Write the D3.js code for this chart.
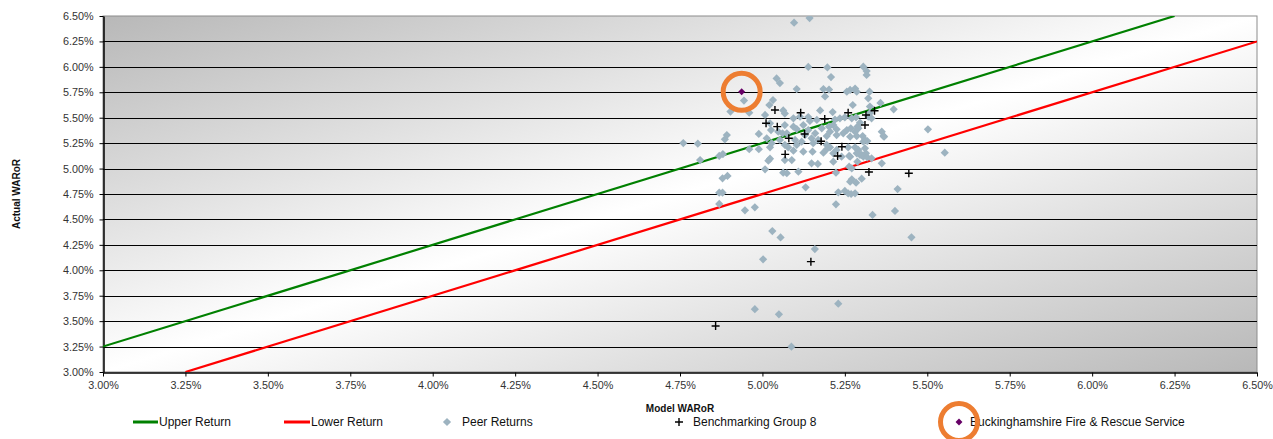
<!DOCTYPE html>
<html><head><meta charset="utf-8">
<script src="https://cdn.jsdelivr.net/npm/d3@7"></script>
<style>body{margin:0;background:#fff;} svg{display:block;font-family:"Liberation Sans",Arial,sans-serif;}</style>
</head><body>
<div id="chart"></div>
<script>
// ---- data (percent) ----
const xTicks = [3.00,3.25,3.50,3.75,4.00,4.25,4.50,4.75,5.00,5.25,5.50,5.75,6.00,6.25,6.50];
const yTicks = [3.00,3.25,3.50,3.75,4.00,4.25,4.50,4.75,5.00,5.25,5.50,5.75,6.00,6.25,6.50];
const upperReturn = [[3.00,3.25],[6.25,6.50]];
const lowerReturn = [[3.25,3.00],[6.50,6.25]];
const peerX = [5.096,5.143,5.139,5.197,5.306,5.316,5.316,5.208,5.043,5.053,5.104,5.185,5.202,5.256,5.266,5.281,5.286,5.325,5.190,4.944,
5.032,5.021,5.274,5.321,5.326,5.358,5.398,4.903,4.960,5.008,5.063,5.068,5.175,5.213,5.326,5.321,5.331,5.094,5.114,5.139,
5.144,5.165,5.220,5.235,5.250,5.271,5.284,5.296,5.023,5.288,5.068,5.094,5.104,5.124,5.139,5.180,5.202,5.215,5.225,5.256,
5.268,5.281,5.291,5.362,5.367,5.502,5.026,5.048,5.061,4.892,4.886,4.989,5.013,5.028,5.023,5.068,5.078,4.760,4.804,5.245,
5.225,5.205,5.195,5.160,5.149,5.154,5.169,5.266,5.286,5.304,5.311,5.306,5.318,5.053,5.074,5.099,5.104,5.119,5.129,5.195,
5.205,5.260,5.281,5.291,5.311,5.314,5.301,5.094,5.124,5.152,5.185,5.195,5.225,5.215,5.240,5.266,5.068,5.089,5.149,5.168,
5.215,5.263,5.286,5.296,5.306,5.318,5.331,5.288,5.362,5.063,5.074,5.109,5.223,5.263,5.271,5.271,5.266,5.284,5.301,5.131,
5.230,5.250,5.260,5.269,5.281,5.410,5.223,5.334,5.402,4.811,4.869,4.880,4.960,4.989,5.018,5.023,5.008,4.879,4.894,4.869,
4.879,4.869,4.947,4.977,5.030,5.055,5.159,5.452,5.002,4.977,5.050,5.230,5.088,5.553,5.369];
const peerY = [6.434,6.480,5.999,5.994,6.002,5.959,5.920,5.900,5.886,5.841,5.782,5.782,5.777,5.756,5.773,5.787,5.756,5.756,5.709,5.669,
5.674,5.625,5.625,5.691,5.610,5.645,5.583,5.561,5.549,5.527,5.571,5.541,5.571,5.556,5.546,5.510,5.494,5.494,5.510,5.507,
5.468,5.478,5.482,5.494,5.504,5.494,5.504,5.451,5.445,5.412,5.428,5.412,5.389,5.428,5.379,5.396,5.412,5.428,5.386,5.379,
5.396,5.363,5.396,5.363,5.320,5.386,5.379,5.363,5.347,5.330,5.288,5.340,5.298,5.249,5.209,5.232,5.209,5.251,5.245,5.347,
5.330,5.363,5.320,5.347,5.298,5.249,5.281,5.313,5.320,5.320,5.281,5.264,5.271,5.281,5.347,5.281,5.232,5.264,5.330,5.232,
5.209,5.209,5.209,5.183,5.199,5.150,5.134,5.176,5.166,5.166,5.156,5.190,5.183,5.150,5.117,5.117,5.084,5.084,5.052,5.045,
5.068,5.124,5.150,5.134,5.117,5.111,5.101,5.068,5.052,4.960,4.954,4.969,4.960,5.018,5.003,4.895,4.871,4.861,4.900,4.816,
4.767,4.780,4.757,4.750,4.757,4.799,4.649,4.544,4.583,5.084,5.124,5.143,5.190,5.190,5.077,5.097,4.993,4.904,4.927,4.763,
4.763,4.652,4.590,4.619,4.386,4.323,4.209,4.324,4.108,3.617,3.567,3.672,3.249,5.156,5.313];
const benchX = [5.038,5.116,5.189,5.260,5.314,5.340,5.011,5.045,5.311,5.128,5.080,5.178,5.241,5.069,5.228,5.323,5.444,5.147,4.858];
const benchY = [5.576,5.549,5.487,5.549,5.527,5.569,5.445,5.412,5.428,5.340,5.298,5.268,5.215,5.140,5.124,4.966,4.954,4.085,3.452];
const bucksX = [4.937];
const bucksY = [5.755];
const legendLabels = ["Upper Return","Lower Return","Peer Returns","Benchmarking Group 8","Buckinghamshire Fire & Rescue Service"];
const xTitle = "Model WARoR", yTitle = "Actual WARoR";

// ---- layout ----
const W = 1273, H = 439;
const m = {left:103, right:W-1257, top:16, bottom:H-372};
const svg = d3.select("#chart").append("svg").attr("width",W).attr("height",H);
const x = d3.scaleLinear().domain([3.0,6.5]).range([m.left, W-m.right]);
const y = d3.scaleLinear().domain([3.0,6.5]).range([H-m.bottom, m.top]);
const fmt = d => d.toFixed(2) + "%";

const defs = svg.append("defs");
const grad = defs.append("linearGradient").attr("id","bg").attr("x1",0).attr("y1",0).attr("x2",1).attr("y2",1);
grad.append("stop").attr("offset","0%").attr("stop-color","#b8b8b8");
grad.append("stop").attr("offset","50%").attr("stop-color","#ffffff");
grad.append("stop").attr("offset","100%").attr("stop-color","#b8b8b8");
defs.append("clipPath").attr("id","clip").append("rect")
  .attr("x",m.left).attr("y",m.top).attr("width",x(6.5)-x(3)).attr("height",y(3)-y(6.5));

svg.append("rect").attr("x",x(3)).attr("y",y(6.5)).attr("width",x(6.5)-x(3)).attr("height",y(3)-y(6.5))
  .attr("fill","url(#bg)").attr("stroke","#8c8c8c").attr("stroke-width",1);

// gridlines
svg.append("g").selectAll("line").data(yTicks.filter(v=>v>3 && v<6.5)).join("line")
  .attr("x1",x(3)).attr("x2",x(6.5)).attr("y1",d=>Math.round(y(d))+0.5).attr("y2",d=>Math.round(y(d))+0.5)
  .attr("stroke","#000").attr("stroke-width",1.2);

// axes
const xAxis = svg.append("g").attr("transform",`translate(0,${Math.round(y(3))+0.5})`)
  .call(d3.axisBottom(x).tickValues(xTicks).tickFormat(fmt).tickSize(4).tickSizeOuter(0));
const yAxis = svg.append("g").attr("transform",`translate(${Math.round(x(3))+0.5},0)`)
  .call(d3.axisLeft(y).tickValues(yTicks).tickFormat(fmt).tickSize(4).tickSizeOuter(0));
[xAxis,yAxis].forEach(a=>{
  a.select(".domain").attr("stroke","#000").attr("stroke-width",1.5);
  a.selectAll(".tick line").attr("stroke","#000");
  a.selectAll("text").attr("fill","#333").style("font-size","10.8px").style("font-family","'Liberation Sans',Arial,sans-serif");
});
xAxis.selectAll("text").attr("y",13).attr("dy","0.35em");
yAxis.selectAll("text").attr("x",-10);

// titles
svg.append("text").attr("x",(x(3)+x(6.5))/2).attr("y",412).attr("text-anchor","middle")
  .style("font-size","10px").style("font-weight","bold").attr("fill","#111").text(xTitle);
svg.append("text").attr("transform",`translate(20,${(y(3)+y(6.5))/2}) rotate(-90)`).attr("text-anchor","middle")
  .style("font-size","10px").style("font-weight","bold").attr("fill","#111").text(yTitle);

const plot = svg.append("g").attr("clip-path","url(#clip)");
const line = d3.line().x(d=>x(d[0])).y(d=>y(d[1]));
plot.append("path").attr("d",line(upperReturn)).attr("stroke","#008000").attr("stroke-width",2.2).attr("fill","none");
plot.append("path").attr("d",line(lowerReturn)).attr("stroke","#ff0000").attr("stroke-width",2.2).attr("fill","none");

const diamond = d3.symbol().type(d3.symbolSquare).size(34);
const peers = peerX.map((v,i)=>[v,peerY[i]]);
plot.append("g").selectAll("path").data(peers).join("path")
  .attr("d",diamond).attr("transform",d=>`translate(${x(d[0])},${y(d[1])}) rotate(45)`)
  .attr("fill","#9db3c0");

const bench = benchX.map((v,i)=>[v,benchY[i]]);
const plus = (cx,cy,s)=>`M${cx-s},${cy}H${cx+s}M${cx},${cy-s}V${cy+s}`;
plot.append("g").selectAll("path").data(bench).join("path")
  .attr("d",d=>plus(x(d[0]),y(d[1]),4)).attr("stroke","#000").attr("stroke-width",1.4).attr("fill","none");

const smallDiamond = d3.symbol().type(d3.symbolSquare).size(24);
const bucks = bucksX.map((v,i)=>[v,bucksY[i]]);
plot.append("g").selectAll("path").data(bucks).join("path")
  .attr("d",smallDiamond).attr("transform",d=>`translate(${x(d[0])},${y(d[1])}) rotate(45)`)
  .attr("fill","#660066");
svg.append("g").selectAll("circle").data(bucks).join("circle")
  .attr("cx",d=>x(d[0])).attr("cy",d=>y(d[1])).attr("r",18.5)
  .attr("fill","none").attr("stroke","#ed7d31").attr("stroke-width",5);

// legend
const ly = 422;
const lg = svg.append("g").style("font-size","12px").attr("fill","#111");
lg.append("line").attr("x1",133).attr("x2",158).attr("y1",ly).attr("y2",ly).attr("stroke","#008000").attr("stroke-width",3);
lg.append("text").attr("x",159).attr("y",ly+4).text(legendLabels[0]);
lg.append("line").attr("x1",284).attr("x2",310).attr("y1",ly).attr("y2",ly).attr("stroke","#ff0000").attr("stroke-width",3);
lg.append("text").attr("x",311).attr("y",ly+4).text(legendLabels[1]);
lg.append("path").attr("d",diamond).attr("transform",`translate(447,${ly}) rotate(45)`).attr("fill","#9db3c0");
lg.append("text").attr("x",462).attr("y",ly+4).text(legendLabels[2]);
lg.append("path").attr("d",plus(679,ly,4)).attr("stroke","#000").attr("stroke-width",1.4);
lg.append("text").attr("x",693).attr("y",ly+4).text(legendLabels[3]);
lg.append("text").attr("x",970).attr("y",ly+4).text(legendLabels[4]);
lg.append("path").attr("d",smallDiamond).attr("transform",`translate(959,${ly}) rotate(45)`).attr("fill","#660066");
lg.append("circle").attr("cx",959).attr("cy",ly).attr("r",18.5).attr("fill","none").attr("stroke","#ed7d31").attr("stroke-width",5);
</script>
</body></html>
